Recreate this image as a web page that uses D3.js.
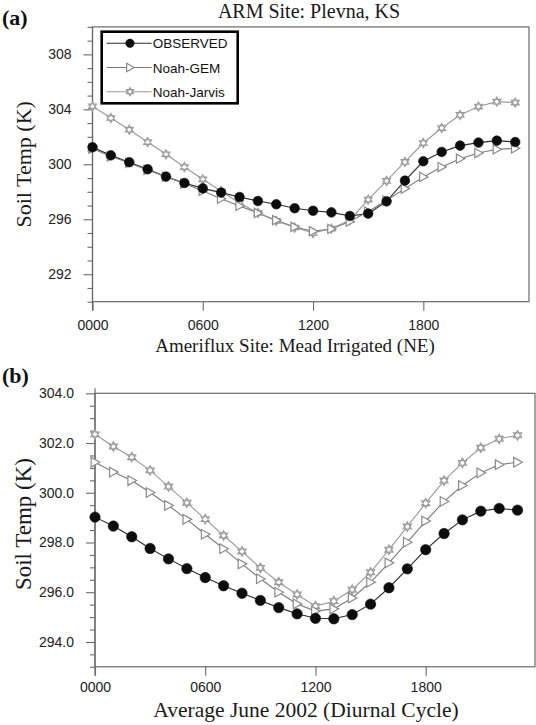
<!DOCTYPE html>
<html>
<head>
<meta charset="utf-8">
<script src="https://cdn.jsdelivr.net/npm/d3@7/dist/d3.min.js"></script>
<style>
  html, body { margin: 0; padding: 0; background: #fff; }
  svg { display: block; }
</style>
</head>
<body>
<svg id="chart" width="536" height="725"></svg>
<script>
// Hour of day for each sample (hourly means, 00 to 23 local)
const hours = [0, 1, 2, 3, 4, 5, 6, 7, 8, 9, 10, 11, 12, 13, 14, 15, 16, 17, 18, 19, 20, 21, 22, 23];

// Series names
const seriesNames = ["OBSERVED", "Noah-GEM", "Noah-Jarvis"];

// (a) ARM site Plevna, KS — soil temperature (K)
const plevnaObserved = [301.24, 300.65, 300.15, 299.64, 299.10, 298.64, 298.25, 297.94, 297.62, 297.33, 297.09, 296.80,
                        296.62, 296.50, 296.24, 296.41, 297.30, 298.81, 300.22, 300.90, 301.36, 301.58, 301.72, 301.62];
const plevnaGem      = [301.14, 300.58, 300.10, 299.59, 299.10, 298.60, 298.06, 297.50, 296.97, 296.46, 295.93, 295.44,
                        295.13, 295.30, 295.83, 296.56, 297.36, 298.23, 299.08, 299.80, 300.41, 300.82, 301.09, 301.16];
const plevnaJarvis   = [304.22, 303.37, 302.52, 301.62, 300.73, 299.80, 298.91, 298.04, 297.19, 296.46, 295.88, 295.40,
                        295.00, 295.32, 295.93, 297.43, 298.79, 300.17, 301.55, 302.64, 303.59, 304.20, 304.56, 304.49];

// (b) Ameriflux site Mead Irrigated (NE) — soil temperature (K)
const meadObserved = [299.02, 298.66, 298.23, 297.76, 297.34, 296.95, 296.59, 296.26, 295.96, 295.67, 295.38, 295.13,
                      294.95, 294.93, 295.10, 295.52, 296.18, 296.94, 297.71, 298.36, 298.91, 299.26, 299.37, 299.30];
const meadGem      = [301.23, 300.83, 300.49, 300.01, 299.49, 298.93, 298.33, 297.75, 297.14, 296.54, 296.00, 295.53,
                      295.24, 295.33, 295.77, 296.40, 297.18, 298.01, 298.86, 299.65, 300.29, 300.80, 301.13, 301.23];
const meadJarvis   = [302.35, 301.86, 301.43, 300.90, 300.25, 299.60, 298.94, 298.28, 297.64, 296.98, 296.40, 295.91,
                      295.44, 295.64, 296.10, 296.80, 297.71, 298.64, 299.58, 300.49, 301.20, 301.81, 302.17, 302.31];

// Tick values and labels
const xTickHours  = [0, 6, 12, 18];
const xTickLabels = ["0000", "0600", "1200", "1800"];
const plevnaYTicks = [292, 296, 300, 304, 308];
const meadYTicks   = [294, 296, 298, 300, 302, 304];

const svg = d3.select("#chart");
const sansFont = "'Liberation Sans', Arial, Helvetica, sans-serif";
const serifFont = "'Liberation Serif', 'Times New Roman', serif";

const seriesStyle = {
  "OBSERVED":    { line: "#2a2a2a", lineWidth: 1.1, marker: "circle" },
  "Noah-GEM":    { line: "#7a7a7a", lineWidth: 1.1, marker: "triangle" },
  "Noah-Jarvis": { line: "#999999", lineWidth: 1.1, marker: "hexagram" }
};

// Draw a single marker of a given kind centred at the origin of group g
function drawMarker(g, kind, size) {
  if (kind === "circle") {
    g.append("circle").attr("r", size).attr("fill", "#0d0d0d").attr("stroke", "#0d0d0d").attr("stroke-width", 0.6);
  } else if (kind === "triangle") {
    const s = size;
    g.append("path")
      .attr("d", `M${-s * 0.8},${-s} L${s},0 L${-s * 0.8},${s} Z`)
      .attr("fill", "#fff").attr("stroke", "#8a8a8a").attr("stroke-width", 1.2);
  } else {
    const r = size;
    const tri = a => d3.range(3).map(i => {
      const t = a + i * 2 * Math.PI / 3;
      return [r * Math.cos(t), r * Math.sin(t)];
    });
    const pathOf = pts => "M" + pts.map(p => p.join(",")).join("L") + "Z";
    g.append("path").attr("d", pathOf(tri(-Math.PI / 2)) + pathOf(tri(Math.PI / 2)))
      .attr("fill", "#fff").attr("stroke", "#9a9a9a").attr("stroke-width", 1.1);
  }
}

function drawPanel(cfg) {
  const x = d3.scaleLinear().domain(cfg.xDomain).range([cfg.left, cfg.right]);
  const y = d3.scaleLinear().domain(cfg.yDomain).range([cfg.bottom, cfg.top]);
  const g = svg.append("g");

  // Frame
  g.append("rect")
    .attr("x", cfg.left).attr("y", cfg.top)
    .attr("width", cfg.right - cfg.left).attr("height", cfg.bottom - cfg.top)
    .attr("fill", "none").attr("stroke", "#6a6a6a").attr("stroke-width", 1.2);

  // Left axis: minor then major ticks
  const yMinor = g.append("g").attr("transform", `translate(${cfg.left},0)`)
    .call(d3.axisLeft(y).tickValues(cfg.yMinor).tickSize(5).tickFormat(""));
  const yMajor = g.append("g").attr("transform", `translate(${cfg.left},0)`)
    .call(d3.axisLeft(y).tickValues(cfg.yTicks).tickSize(9).tickPadding(12).tickFormat(cfg.yFormat));
  [yMinor, yMajor].forEach(a => {
    a.select(".domain").remove();
    a.selectAll(".tick line").attr("stroke", "#6a6a6a").attr("stroke-width", 1.1);
  });
  yMajor.selectAll(".tick text")
    .attr("font-family", sansFont).attr("font-size", 14).attr("fill", "#222");
  g.append("line")
    .attr("x1", cfg.left).attr("x2", cfg.left)
    .attr("y1", cfg.top - cfg.axisOvershootTop).attr("y2", cfg.bottom + 9)
    .attr("stroke", "#6a6a6a").attr("stroke-width", 1.2);

  // Bottom axis
  const xAxis = g.append("g").attr("transform", `translate(0,${cfg.bottom})`)
    .call(d3.axisBottom(x).tickValues(xTickHours).tickSize(9).tickPadding(cfg.xPad)
      .tickFormat((d, i) => xTickLabels[i]));
  xAxis.select(".domain").remove();
  xAxis.selectAll(".tick line").attr("stroke", "#6a6a6a").attr("stroke-width", 1.1);
  xAxis.selectAll(".tick text")
    .attr("font-family", sansFont).attr("font-size", 14).attr("fill", "#222");

  // Series lines and markers
  const line = d3.line().x((d, i) => x(hours[i])).y(d => y(d));
  cfg.series.forEach((vals, si) => {
    const name = seriesNames[si];
    const st = seriesStyle[name];
    g.append("path").datum(vals)
      .attr("d", line).attr("fill", "none")
      .attr("stroke", st.line).attr("stroke-width", st.lineWidth);
  });
  // draw markers after all lines, model series first, observations on top
  [2, 1, 0].forEach(si => {
    const name = seriesNames[si];
    const st = seriesStyle[name];
    cfg.series[si].forEach((v, i) => {
      const m = g.append("g").attr("transform", `translate(${x(hours[i])},${y(v)})`);
      drawMarker(m, st.marker, st.marker === "circle" ? cfg.dotR : cfg.markR);
    });
  });

  // Titles
  g.append("text").attr("x", cfg.xTitleX).attr("y", cfg.xTitleY)
    .attr("text-anchor", "middle").attr("font-family", serifFont)
    .attr("font-size", cfg.xTitleSize).attr("fill", "#1a1a1a").text(cfg.xTitle);
  g.append("text")
    .attr("transform", `translate(${cfg.yTitleX},${(cfg.top + cfg.bottom) / 2 + cfg.yTitleShift}) rotate(-90)`)
    .attr("text-anchor", "middle").attr("font-family", serifFont)
    .attr("font-size", cfg.yTitleSize).attr("fill", "#1a1a1a").text("Soil Temp (K)");
  g.append("text").attr("x", 2).attr("y", cfg.letterY)
    .attr("font-family", serifFont).attr("font-weight", "bold")
    .attr("font-size", 22).attr("fill", "#111").text(cfg.letter);

  return { x, y, g };
}

const plevnaMinor = d3.range(290, 311, 1).filter(v => !plevnaYTicks.includes(v));
const meadMinor = d3.range(293, 304.01, 0.5).filter(v => !meadYTicks.includes(v));

const panelA = drawPanel({
  left: 92.5, right: 529, top: 26.9, bottom: 301.7,
  xDomain: [0, 23.75], yDomain: [290, 310],
  yTicks: plevnaYTicks, yMinor: plevnaMinor, yFormat: d3.format("d"),
  series: [plevnaObserved, plevnaGem, plevnaJarvis],
  dotR: 4.8, markR: 4.6, xPad: 9,
  xTitle: "Ameriflux Site: Mead Irrigated (NE)", xTitleX: 295, xTitleY: 352, xTitleSize: 19,
  yTitleX: 31, yTitleSize: 22, yTitleShift: 0,
  letter: "(a)", letterY: 25, axisOvershootTop: 0
});

// Top title of panel (a)
svg.append("text").attr("x", 309).attr("y", 18)
  .attr("text-anchor", "middle").attr("font-family", serifFont)
  .attr("font-size", 20).attr("fill", "#1a1a1a").text("ARM Site: Plevna, KS");

const panelB = drawPanel({
  left: 95, right: 535, top: 393.3, bottom: 666.8,
  xDomain: [0, 23.95], yDomain: [293, 304],
  yTicks: meadYTicks, yMinor: meadMinor, yFormat: d3.format(".1f"),
  series: [meadObserved, meadGem, meadJarvis],
  dotR: 5.2, markR: 4.8, xPad: 6,
  xTitle: "Average June 2002 (Diurnal Cycle)", xTitleX: 306, xTitleY: 717, xTitleSize: 21.5,
  yTitleX: 31, yTitleSize: 23, yTitleShift: -6,
  letter: "(b)", letterY: 383, axisOvershootTop: 5
});

// Legend in panel (a)
const legend = svg.append("g").attr("transform", "translate(101.7,31.7)");
legend.append("rect").attr("width", 136).attr("height", 71.6)
  .attr("fill", "#fff").attr("stroke", "#000").attr("stroke-width", 2.6);
seriesNames.forEach((name, i) => {
  const st = seriesStyle[name];
  const row = legend.append("g").attr("transform", `translate(0,${11.6 + i * 24.2})`);
  row.append("line").attr("x1", 5).attr("x2", 50).attr("y1", 0).attr("y2", 0)
    .attr("stroke", st.line).attr("stroke-width", 1.1);
  const m = row.append("g").attr("transform", "translate(28.3,0)");
  drawMarker(m, st.marker, 4.2);
  row.append("text").attr("x", 51).attr("y", 5)
    .attr("font-family", sansFont).attr("font-size", 13.5).attr("fill", "#111").text(name);
});
</script>
</body>
</html>
